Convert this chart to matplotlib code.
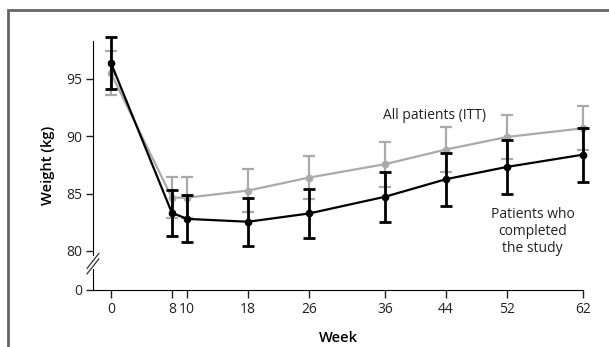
import matplotlib.pyplot as plt
import matplotlib.patches as mpatches
from matplotlib.lines import Line2D

plt.rcParams['font.family'] = ['Open Sans', 'DejaVu Sans']

# weight over time, mean with error bars
weeks = [0, 8, 10, 18, 26, 36, 44, 52, 62]
itt_mean = [95.5, 84.65, 84.65, 85.27, 86.4, 87.57, 88.85, 89.94, 90.7]
itt_err = [1.9, 1.8, 1.8, 1.85, 1.9, 1.95, 2.0, 1.9, 1.9]
completers_mean = [96.4, 83.33, 82.8, 82.55, 83.27, 84.73, 86.26, 87.33, 88.4]
completers_err = [2.3, 2.0, 2.05, 2.1, 2.1, 2.2, 2.3, 2.35, 2.35]

y_ticks = [80, 85, 90, 95]
y_floor = 76.6  # where the broken axis puts zero

fig = plt.figure(figsize=(6.09, 3.47), dpi=100)
ax = fig.add_axes([0.1527, 0.1643, 0.8046, 0.7175])

gray = '#aaaaaa'
series = [
    ax.errorbar(weeks, itt_mean, yerr=itt_err, color=gray, lw=1.6, marker='o', ms=4.5,
                elinewidth=1.6, capsize=4, capthick=1.6, zorder=2),
    ax.errorbar(weeks, completers_mean, yerr=completers_err, color='black', lw=1.6,
                marker='o', ms=4.5, elinewidth=2.0, capsize=4, capthick=2.0, zorder=3),
]
for cont in series:
    for art in cont.get_children():
        art.set_clip_on(False)

ax.set_xlim(-2.36, 62)
ax.set_ylim(y_floor, 98.31)
ax.set_xticks(weeks)
ax.set_xticklabels([str(w) for w in weeks])
ax.set_yticks([y_floor] + y_ticks)
ax.set_yticklabels(['0'] + [str(t) for t in y_ticks])
ax.tick_params(direction='out', length=5, width=1, labelsize=10, colors='#222222')
ax.tick_params(axis='x', length=6, pad=3)
ax.tick_params(axis='y', pad=3)

for side in ('top', 'right'):
    ax.spines[side].set_visible(False)
ax.spines['left'].set_bounds(y_floor, 98.31)
ax.spines['bottom'].set_bounds(-2.36, 62)

# break marks on the y axis
gap = mpatches.Rectangle((-0.015, 0.085), 0.03, 0.05, transform=ax.transAxes,
                         facecolor='white', edgecolor='none', zorder=4, clip_on=False)
ax.add_patch(gap)
for dy in (0.0, 0.022):
    ax.add_line(Line2D([-0.012, 0.012], [0.065 + dy, 0.125 + dy], transform=ax.transAxes,
                       color='#333333', lw=0.9, clip_on=False, zorder=5))

ax.set_ylabel('Weight (kg)', fontsize=10.5, fontweight='semibold', labelpad=8)
ax.set_xlabel('Week', fontsize=10.5, fontweight='semibold', labelpad=10)

ax.text(42.5, 91.85, 'All patients (ITT)', fontsize=10, ha='center', va='center',
        color='#222222')
ax.text(55.4, 81.7, 'Patients who\ncompleted\nthe study', fontsize=10, ha='center',
        va='center', color='#222222', linespacing=1.15)

# outer panel frame
fig.patches.append(mpatches.Rectangle((8 / 609, -0.1), 1.2, 1 - 10 / 347 + 0.1,
                                      transform=fig.transFigure, fill=False,
                                      edgecolor='#666666', lw=2))

fig.savefig('out.png', dpi=100)
